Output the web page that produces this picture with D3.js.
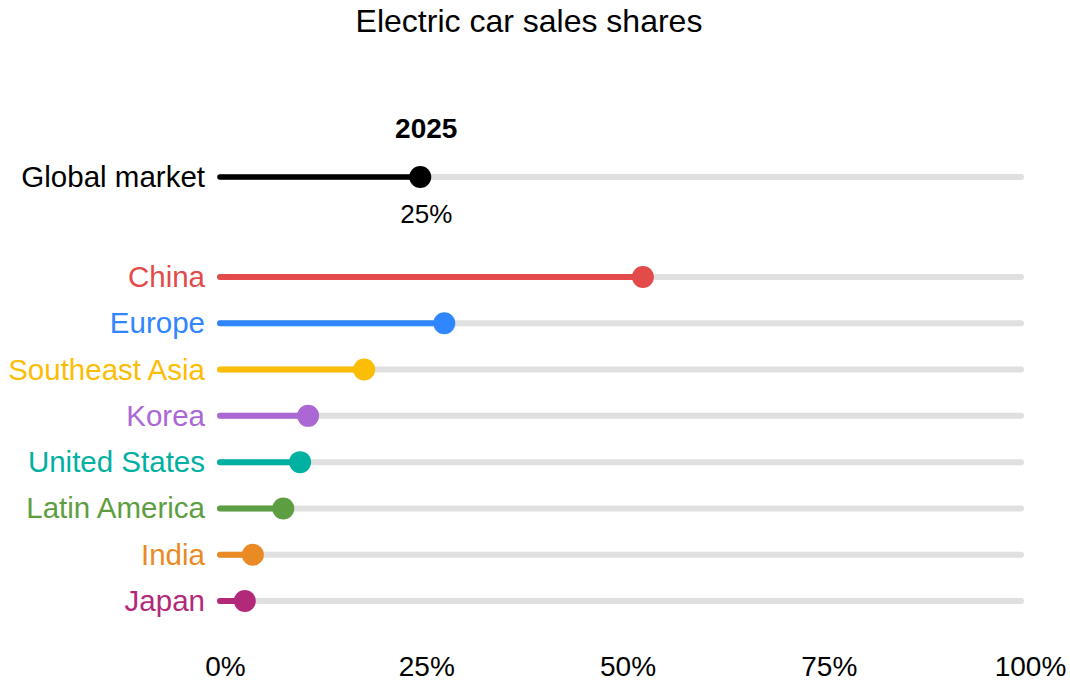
<!DOCTYPE html>
<html>
<head>
<meta charset="utf-8">
<script src="https://cdn.jsdelivr.net/npm/d3@7"></script>
<style>
  html, body { margin: 0; padding: 0; background: #ffffff; }
  svg { display: block; font-family: "Liberation Sans", Arial, sans-serif; }
</style>
</head>
<body>
<svg id="chart" width="1070" height="682"></svg>
<script>
const title = "Electric car sales shares";
const yearLabel = "2025";
const globalLabel = "Global market";
const globalValue = 25;
const regions = ["China", "Europe", "Southeast Asia", "Korea", "United States", "Latin America", "India", "Japan"];
const values = [52.8, 28, 18, 11, 10, 7.9, 4.1, 3.1];
const colors = ["#e24b4a", "#2f86fe", "#fbbd05", "#ab68d4", "#00b0a1", "#5e9e42", "#e98a25", "#b3297a"];
const tickValues = [0, 25, 50, 75, 100];
const tickLabels = ["0%", "25%", "50%", "75%", "100%"];

const svg = d3.select("#chart");

const x = d3.scaleLinear().domain([0, 100]).range([220, 1021]);
const xLabels = d3.scaleLinear().domain([0, 100]).range([225, 1030]);
const y = d3.scalePoint().domain(regions).range([277, 601]);
const yGlobal = 177;

// title
svg.append("text")
  .attr("x", 529).attr("y", 32)
  .attr("text-anchor", "middle")
  .attr("font-size", 32)
  .attr("fill", "#000")
  .text(title);

// global row
svg.append("line")
  .attr("x1", x(0)).attr("x2", x(100))
  .attr("y1", yGlobal).attr("y2", yGlobal)
  .attr("stroke", "#e0e0e0").attr("stroke-width", 6).attr("stroke-linecap", "round");
svg.append("line")
  .attr("x1", x(0)).attr("x2", x(globalValue))
  .attr("y1", yGlobal).attr("y2", yGlobal)
  .attr("stroke", "#000").attr("stroke-width", 5.5).attr("stroke-linecap", "round");
svg.append("circle")
  .attr("cx", x(globalValue)).attr("cy", yGlobal).attr("r", 11)
  .attr("fill", "#000");
svg.append("text")
  .attr("x", 205).attr("y", yGlobal + 10)
  .attr("text-anchor", "end")
  .attr("font-size", 29.5)
  .attr("fill", "#000")
  .text(globalLabel);
svg.append("text")
  .attr("x", xLabels(globalValue)).attr("y", 138)
  .attr("text-anchor", "middle")
  .attr("font-size", 28).attr("font-weight", "bold")
  .attr("fill", "#000")
  .text(yearLabel);
svg.append("text")
  .attr("x", xLabels(globalValue)).attr("y", 223)
  .attr("text-anchor", "middle")
  .attr("font-size", 26)
  .attr("fill", "#000")
  .text(d3.format(".0f")(globalValue) + "%");

// region rows
const rows = svg.append("g").selectAll("g")
  .data(regions.map((r, i) => ({ name: r, value: values[i], color: colors[i] })))
  .join("g");

rows.append("line")
  .attr("x1", x(0)).attr("x2", x(100))
  .attr("y1", d => y(d.name)).attr("y2", d => y(d.name))
  .attr("stroke", "#e0e0e0").attr("stroke-width", 6).attr("stroke-linecap", "round");
rows.append("line")
  .attr("x1", x(0)).attr("x2", d => x(d.value))
  .attr("y1", d => y(d.name)).attr("y2", d => y(d.name))
  .attr("stroke", d => d.color).attr("stroke-width", 6).attr("stroke-linecap", "round");
rows.append("circle")
  .attr("cx", d => x(d.value)).attr("cy", d => y(d.name)).attr("r", 11)
  .attr("fill", d => d.color);
rows.append("text")
  .attr("x", 205).attr("y", d => y(d.name) + 10)
  .attr("text-anchor", "end")
  .attr("font-size", 29.5)
  .attr("fill", d => d.color)
  .text(d => d.name);

// x axis labels
const axis = d3.axisBottom(xLabels)
  .tickValues(tickValues)
  .tickFormat((d, i) => tickLabels[i])
  .tickSize(0)
  .tickPadding(0);
const ax = svg.append("g").attr("transform", "translate(0,654)").call(axis);
ax.select(".domain").remove();
ax.selectAll("text")
  .attr("font-size", 28)
  .attr("font-family", "'Liberation Sans', Arial, sans-serif")
  .attr("fill", "#000")
  .attr("dy", "0.8em");
</script>
</body>
</html>
